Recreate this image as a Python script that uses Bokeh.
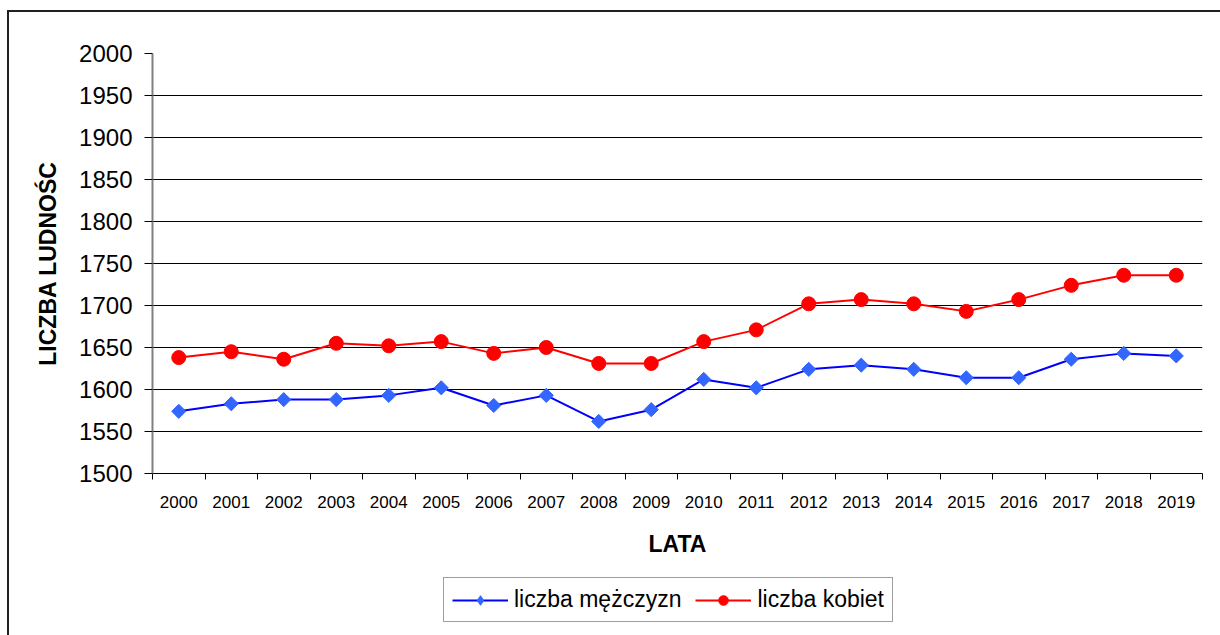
from bokeh.plotting import figure
from bokeh.layouts import column
from bokeh.models import FixedTicker, Legend, LegendItem, Range1d
from bokeh.embed import file_html
from bokeh.resources import INLINE
import math

years = [2000, 2001, 2002, 2003, 2004, 2005, 2006, 2007, 2008, 2009,
         2010, 2011, 2012, 2013, 2014, 2015, 2016, 2017, 2018, 2019]
men = [1574, 1583, 1588, 1588, 1593, 1602, 1581, 1593, 1562, 1576,
       1612, 1602, 1624, 1629, 1624, 1614, 1614, 1636, 1643, 1640]
women = [1638, 1645, 1636, 1655, 1652, 1657, 1643, 1650, 1631, 1631,
         1657, 1671, 1702, 1707, 1702, 1693, 1707, 1724, 1736, 1736]
y_ticks = [1500, 1550, 1600, 1650, 1700, 1750, 1800, 1850, 1900, 1950, 2000]
men_label = "liczba mężczyzn"
women_label = "liczba kobiet"
x_title = "LATA"
y_title = "LICZBA LUDNOŚC"

FONT = "Liberation Sans"
MEN_LINE, MEN_MARK = "#0000FF", "#3366FF"
WOMEN_COLOR = "#FF0000"

p = figure(width=1211, height=561, frame_width=1050, frame_height=420,
           output_backend="svg", toolbar_location=None,
           x_range=Range1d(years[0] - 0.5, years[-1] + 0.5),
           y_range=Range1d(y_ticks[0], y_ticks[-1]),
           min_border_left=143, min_border_right=18, min_border_top=41,
           min_border_bottom=100)
p.outline_line_color = None
p.background_fill_color = "white"
p.border_fill_color = "white"

# grids
p.xgrid.grid_line_color = None
p.ygrid.grid_line_color = "black"
p.ygrid.grid_line_width = 1

# y axis
p.yaxis.ticker = FixedTicker(ticks=y_ticks)
p.yaxis.axis_line_color = "#808080"
p.yaxis.axis_line_width = 2
p.yaxis.major_tick_out = 8
p.yaxis.major_tick_in = 0
p.yaxis.major_tick_line_color = "black"
p.yaxis.minor_tick_line_color = None
p.yaxis.major_label_text_font = FONT
p.yaxis.major_label_text_font_size = "24px"
p.yaxis.major_label_text_color = "black"
p.yaxis.major_label_standoff = 12
p.yaxis.axis_label = y_title
p.yaxis.axis_label_text_font = FONT
p.yaxis.axis_label_text_font_size = "23px"
p.yaxis.axis_label_text_font_style = "bold"
p.yaxis.axis_label_text_color = "black"
p.yaxis.axis_label_standoff = 15

# x axis
bounds = [y - 0.5 for y in years] + [years[-1] + 0.5]
p.xaxis.ticker = FixedTicker(ticks=years, minor_ticks=bounds)
p.xaxis.major_label_overrides = {y: str(y) for y in years}
p.xaxis.axis_line_color = "black"
p.xaxis.axis_line_width = 1
p.xaxis.major_tick_line_color = None
p.xaxis.major_tick_out = 0
p.xaxis.major_tick_in = 0
p.xaxis.minor_tick_line_color = "black"
p.xaxis.minor_tick_out = 6
p.xaxis.minor_tick_in = 0
p.xaxis.major_label_text_font = FONT
p.xaxis.major_label_text_font_size = "17px"
p.xaxis.major_label_text_color = "black"
p.xaxis.major_label_standoff = 16
p.xaxis.axis_label = x_title
p.xaxis.axis_label_text_font = FONT
p.xaxis.axis_label_text_font_size = "23px"
p.xaxis.axis_label_text_font_style = "bold"
p.xaxis.axis_label_text_color = "black"
p.xaxis.axis_label_standoff = 20

# series
p.line(years, men, line_color=MEN_LINE, line_width=2)
p.scatter(years, men, marker="square", angle=math.pi / 4, size=10,
          fill_color=MEN_MARK, line_color=MEN_MARK)
p.line(years, women, line_color=WOMEN_COLOR, line_width=2)
p.scatter(years, women, marker="circle", size=14,
          fill_color=WOMEN_COLOR, line_color=WOMEN_COLOR)

# legend strip below the chart (its own small figure; series lie outside its view)
q = figure(width=1211, height=62, output_backend="svg", toolbar_location=None,
           x_range=Range1d(0, 1), y_range=Range1d(0, 1),
           x_axis_location=None, y_axis_location=None,
           min_border_left=0, min_border_right=0, min_border_top=0,
           min_border_bottom=0)
q.outline_line_color = None
q.xgrid.grid_line_color = None
q.ygrid.grid_line_color = None
q.background_fill_color = "white"
q.border_fill_color = "white"
k1l = q.line(years, men, line_color=MEN_LINE, line_width=2)
k1m = q.scatter(years, men, marker="diamond", size=20,
                fill_color=MEN_MARK, line_color=MEN_MARK)
k2l = q.line(years, women, line_color=WOMEN_COLOR, line_width=2)
k2m = q.scatter(years, women, marker="circle", size=14,
                fill_color=WOMEN_COLOR, line_color=WOMEN_COLOR)

legend = Legend(items=[LegendItem(label=men_label, renderers=[k1l, k1m]),
                       LegendItem(label=women_label, renderers=[k2l, k2m])],
                location=(291, 13), orientation="horizontal")
legend.label_text_font = FONT
legend.label_text_font_size = "23px"
legend.label_text_color = "black"
legend.border_line_color = "#404040"
legend.border_line_width = 1
legend.padding = 8
legend.margin = 0
legend.spacing = 14
legend.glyph_width = 56
legend.glyph_height = 24
legend.label_standoff = 6
legend.background_fill_alpha = 1
q.add_layout(legend, "center")

layout = column(p, q, spacing=0)
layout.styles = {"border-left": "2px solid #202020", "border-top": "2px solid #202020",
                 "margin-left": "7px", "margin-top": "10px"}

open("out.html", "w").write(file_html(layout, INLINE))
